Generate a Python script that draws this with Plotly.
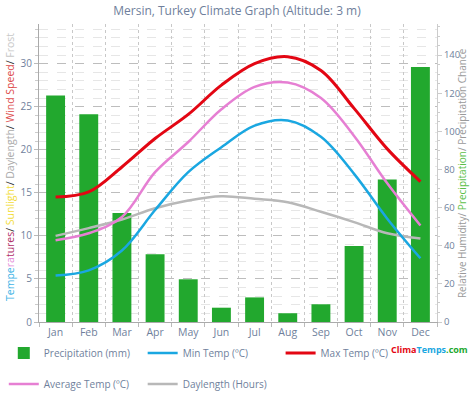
import plotly.graph_objects as go

months = ["Jan", "Feb", "Mar", "Apr", "May", "Jun", "Jul", "Aug", "Sep", "Oct", "Nov", "Dec"]
precip_mm = [118.8, 108.9, 57.2, 35.6, 22.4, 7.5, 12.9, 4.6, 9.3, 39.8, 74.7, 133.7]
min_temp = [5.4, 6.0, 8.3, 13.0, 17.4, 20.3, 22.8, 23.4, 21.5, 17.2, 12.0, 7.4]
max_temp = [14.5, 15.1, 18.0, 21.3, 24.1, 27.5, 30.0, 30.8, 29.2, 24.8, 20.1, 16.3]
avg_temp = [9.5, 10.3, 12.2, 17.4, 20.9, 24.7, 27.3, 27.8, 26.0, 21.6, 16.1, 11.2]
daylength = [10.0, 10.9, 11.9, 13.2, 14.1, 14.6, 14.3, 13.9, 12.8, 11.6, 10.3, 9.7]

FONT = "Open Sans"
TXT = "#6f7f9c"

fig = go.Figure()

fig.add_trace(go.Bar(
    x=months, y=precip_mm, name="Precipitation (mm)",
    marker=dict(color="#22a82e", line=dict(width=0)),
    yaxis="y", legend="legend",
))
fig.add_trace(go.Scatter(
    x=months, y=daylength, name="Daylength (Hours)", mode="lines",
    line=dict(color="#b8b8b8", width=2.5, shape="spline"),
    yaxis="y2", legend="legend5",
))
fig.add_trace(go.Scatter(
    x=months, y=min_temp, name="Min Temp (ºC)", mode="lines",
    line=dict(color="#1aa7e1", width=2.5, shape="spline"),
    yaxis="y2", legend="legend2",
))
fig.add_trace(go.Scatter(
    x=months, y=avg_temp, name="Average Temp (ºC)", mode="lines",
    line=dict(color="#e67fd3", width=2.5, shape="spline"),
    yaxis="y2", legend="legend4",
))
fig.add_trace(go.Scatter(
    x=months, y=max_temp, name="Max Temp (ºC)", mode="lines",
    line=dict(color="#e30613", width=3, shape="spline"),
    yaxis="y2", legend="legend3",
))

left_title = (
    '<span style="color:#3fb4e6">Tempe</span>'
    '<span style="color:#e48ad8">ra</span>'
    '<span style="color:#b0306a">tures</span>'
    '<span style="color:#333">/ </span>'
    '<span style="color:#f2dc3a">Sunlight</span>'
    '<span style="color:#333">/ </span>'
    '<span style="color:#aaaaaa">Daylength</span>'
    '<span style="color:#333">/ </span>'
    '<span style="color:#dd4b4b">Wind Speed</span>'
    '<span style="color:#333">/ </span>'
    '<span style="color:#c8c8c8">Frost</span>'
)
right_title = (
    '<span style="color:#9a9a9a">Relative Humidity/ </span>'
    '<span style="color:#5cbf4a">Precipitation</span>'
    '<span style="color:#9a9a9a">/ Precipitation Chance</span>'
)

legend_common = dict(
    orientation="h", xanchor="left", yanchor="middle",
    xref="container", yref="container",
    itemwidth=30,
    font=dict(family=FONT, size=10, color=TXT),
    bgcolor="rgba(0,0,0,0)",
)
row1_y, row2_y = 0.1175, 0.04
col_x = [0.008, 0.301, 0.592]

fig.update_layout(
    width=474, height=400,
    margin=dict(l=39, r=37, t=24, b=78, autoexpand=False),
    paper_bgcolor="white", plot_bgcolor="white",
    font=dict(family=FONT, size=10, color=TXT),
    bargap=0.43,
    showlegend=True,
    title=dict(text="Mersin, Turkey Climate Graph (Altitude: 3 m)",
               x=0.5, xanchor="center", y=0.972, yanchor="middle",
               font=dict(family=FONT, size=12, color=TXT)),
    xaxis=dict(
        type="category", range=[-0.5, 11.5],
        tickson="boundaries", showgrid=True, gridcolor="#c8c8c8", griddash="dot",
        ticks="outside", ticklen=4, tickcolor="#bbbbbb",
        showline=True, linecolor="#aaaaaa", linewidth=1,
        tickfont=dict(family=FONT, size=10.5, color=TXT),
    ),
    yaxis=dict(
        side="right", range=[0, 156.3], dtick=20,
        showgrid=False, zeroline=False,
        showline=True, linecolor="#cccccc", linewidth=1,
        ticks="outside", ticklen=4, tickcolor="#cccccc",
        minor=dict(dtick=5, ticks="outside", ticklen=2, tickcolor="#cccccc", showgrid=False),
        tickfont=dict(family=FONT, size=9.5, color=TXT),
    ),
    yaxis2=dict(
        side="left", overlaying="y", range=[0, 34.6], dtick=5,
        showgrid=True, gridcolor="#bdbdbd", griddash="dash", gridwidth=1,
        zeroline=False,
        showline=True, linecolor="#aaaaaa", linewidth=1,
        ticks="outside", ticklen=4, tickcolor="#bbbbbb",
        minor=dict(dtick=1, showgrid=True, gridcolor="#e6e6e6", gridwidth=1,
                   ticks="outside", ticklen=3, tickcolor="#cccccc"),
        tickfont=dict(family=FONT, size=10, color=TXT),
    ),
    legend=dict(x=col_x[0], y=row1_y, **legend_common),
    legend2=dict(x=col_x[1], y=row1_y, **legend_common),
    legend3=dict(x=col_x[2], y=row1_y, **legend_common),
    legend4=dict(x=col_x[0], y=row2_y, **legend_common),
    legend5=dict(x=col_x[1], y=row2_y, **legend_common),
    annotations=[
        dict(text=left_title, textangle=-90, xref="paper", yref="paper",
             x=-0.073, y=0.52, xanchor="center", yanchor="middle", showarrow=False,
             font=dict(family=FONT, size=10.5)),
        dict(text=right_title, textangle=-90, xref="paper", yref="paper",
             x=1.063, y=0.5, xanchor="center", yanchor="middle", showarrow=False,
             font=dict(family=FONT, size=10)),
        dict(text='<b><span style="color:#e30613">Clima</span><span style="color:#1aa7e1">Temps</span><span style="color:#22a82e">.com</span></b>',
             xref="paper", yref="paper", x=1.083, y=-0.091, xanchor="right", yanchor="middle",
             showarrow=False, font=dict(family=FONT, size=9)),
    ],
)

fig.write_html("out.html", config={"displayModeBar": False},
               post_script="document.body.style.margin='0';")
